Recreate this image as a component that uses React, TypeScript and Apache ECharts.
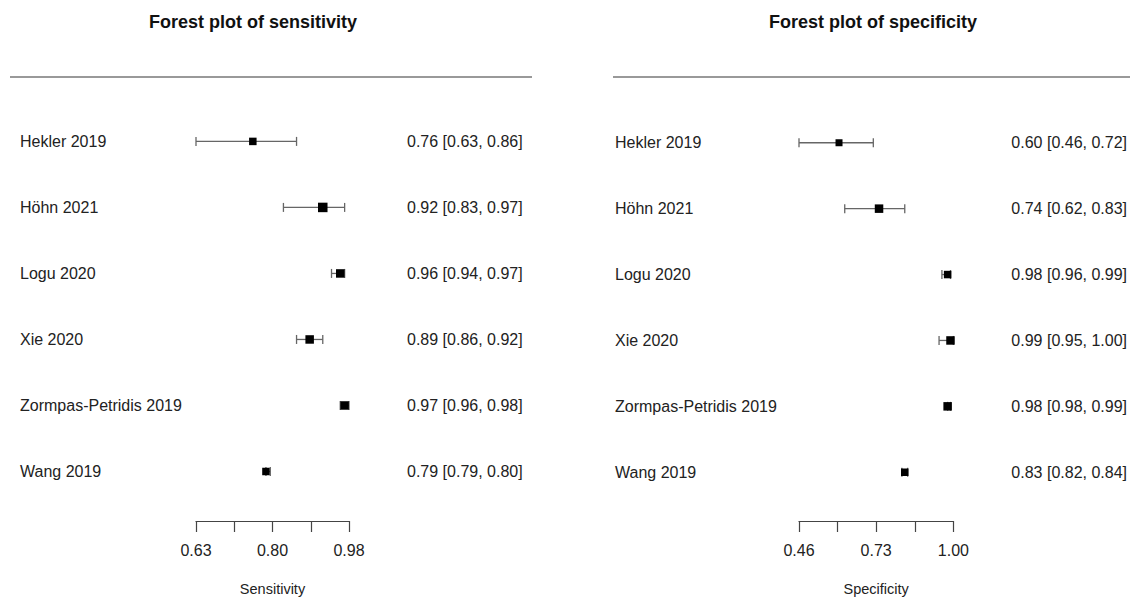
import React, { useEffect, useRef } from "react";
import * as echarts from "echarts";

const studies = ["Hekler 2019", "Höhn 2021", "Logu 2020", "Xie 2020", "Zormpas-Petridis 2019", "Wang 2019"];

const sensEst = [0.76, 0.92, 0.96, 0.89, 0.97, 0.79];
const sensLo = [0.63, 0.83, 0.94, 0.86, 0.96, 0.79];
const sensHi = [0.86, 0.97, 0.97, 0.92, 0.98, 0.80];
const sensWeight = [7.5, 9.5, 8.5, 8.5, 8.5, 7.5];

const specEst = [0.60, 0.74, 0.98, 0.99, 0.98, 0.83];
const specLo = [0.46, 0.62, 0.96, 0.95, 0.98, 0.82];
const specHi = [0.72, 0.83, 0.99, 1.00, 0.99, 0.84];
const specWeight = [7, 8.5, 7.5, 8.5, 8.5, 7.5];

const sensTicks = ["0.63", "", "0.80", "", "0.98"];
const specTicks = ["0.46", "", "0.73", "", "1.00"];

const FONT = "'Liberation Sans', Arial, Helvetica, sans-serif";
const TXT = "#222";

function fmtLabels(est: number[], lo: number[], hi: number[]) {
  return est.map((e, i) => `${e.toFixed(2)} [${lo[i].toFixed(2)}, ${hi[i].toFixed(2)}]`);
}

function errorBarRender(params: any, api: any) {
  const row = api.value(0);
  const lo = api.value(1);
  const hi = api.value(2);
  const a = api.coord([lo, row]);
  const b = api.coord([hi, row]);
  const h = 4.5;
  const style = { stroke: "#666", lineWidth: 1.3 };
  return {
    type: "group",
    children: [
      { type: "line", shape: { x1: a[0], y1: a[1], x2: b[0], y2: b[1] }, style },
      { type: "line", shape: { x1: a[0], y1: a[1] - h, x2: a[0], y2: a[1] + h }, style },
      { type: "line", shape: { x1: b[0], y1: b[1] - h, x2: b[0], y2: b[1] + h }, style },
    ],
  };
}

export default function App() {
  const ref = useRef<HTMLDivElement>(null);

  useEffect(() => {
    if (!ref.current) return;
    const chart = echarts.init(ref.current, undefined, { renderer: "svg" });

    const xAxisCommon = (
      min: number,
      max: number,
      interval: number,
      ticks: string[],
      name: string,
      gridIndex: number,
      offset: number
    ) => ({
      gridIndex,
      type: "value",
      min,
      max,
      interval,
      offset,
      axisLine: { show: true, lineStyle: { color: "#444", width: 1.2 } },
      axisTick: { show: true, length: 11, lineStyle: { color: "#444", width: 1.2 } },
      splitLine: { show: false },
      axisLabel: {
        show: true,
        showMinLabel: true,
        showMaxLabel: true,
        margin: 21,
        fontSize: 16,
        color: TXT,
        fontFamily: FONT,
        formatter: (_v: number, idx: number) => ticks[idx] ?? "",
      },
      name,
      nameLocation: "middle",
      nameGap: 60,
      nameTextStyle: { fontSize: 14.5, color: TXT, fontFamily: FONT },
    });

    const yCat = (gridIndex: number, data: string[], position: string, margin: number) => ({
      gridIndex,
      type: "category",
      inverse: true,
      position,
      data,
      axisLine: { show: false },
      axisTick: { show: false },
      splitLine: { show: false },
      axisLabel: { align: "left", margin, fontSize: 16, color: TXT, fontFamily: FONT },
    });

    const rows = studies.map((_, i) => i);

    chart.setOption({
      animation: false,
      backgroundColor: "#fff",
      grid: [
        { left: 196, top: 108.4, width: 153, height: 399 },
        { left: 799, top: 109.8, width: 156, height: 401.4 },
      ],
      xAxis: [
        xAxisCommon(0.63, 0.98, 0.0875, sensTicks, "Sensitivity", 0, 16.5),
        xAxisCommon(0.46, 1.0, 0.135, specTicks, "Specificity", 1, 15.8),
      ],
      yAxis: [
        yCat(0, studies, "left", 176),
        yCat(0, fmtLabels(sensEst, sensLo, sensHi), "right", 58),
        yCat(1, studies, "left", 184),
        yCat(1, fmtLabels(specEst, specLo, specHi), "right", 58),
      ],
      graphic: [
        {
          type: "text",
          x: 253,
          y: 22,
          style: { text: "Forest plot of sensitivity", font: `bold 18px ${FONT}`, fill: "#111", textAlign: "center", textVerticalAlign: "middle" },
        },
        {
          type: "text",
          x: 873,
          y: 22,
          style: { text: "Forest plot of specificity", font: `bold 18px ${FONT}`, fill: "#111", textAlign: "center", textVerticalAlign: "middle" },
        },
        { type: "line", shape: { x1: 10, y1: 77, x2: 532, y2: 77 }, style: { stroke: "#999", lineWidth: 2 } },
        { type: "line", shape: { x1: 613, y1: 77, x2: 1130, y2: 77 }, style: { stroke: "#999", lineWidth: 2 } },
      ],
      series: [
        {
          type: "custom",
          xAxisIndex: 0,
          yAxisIndex: 0,
          renderItem: errorBarRender,
          encode: { x: [1, 2], y: 0 },
          data: rows.map((i) => [i, sensLo[i], sensHi[i]]),
          z: 2,
        },
        {
          type: "scatter",
          xAxisIndex: 0,
          yAxisIndex: 0,
          symbol: "rect",
          symbolSize: (v: number[]) => v[2],
          itemStyle: { color: "#000", opacity: 1 },
          data: rows.map((i) => [sensEst[i], i, sensWeight[i]]),
          z: 3,
        },
        {
          type: "custom",
          xAxisIndex: 1,
          yAxisIndex: 2,
          renderItem: errorBarRender,
          encode: { x: [1, 2], y: 0 },
          data: rows.map((i) => [i, specLo[i], specHi[i]]),
          z: 2,
        },
        {
          type: "scatter",
          xAxisIndex: 1,
          yAxisIndex: 2,
          symbol: "rect",
          symbolSize: (v: number[]) => v[2],
          itemStyle: { color: "#000", opacity: 1 },
          data: rows.map((i) => [specEst[i], i, specWeight[i]]),
          z: 3,
        },
      ],
    });

    return () => chart.dispose();
  }, []);

  return <div ref={ref} style={{ position: "fixed", left: 0, top: 0, width: 1130, height: 601 }} />;
}
